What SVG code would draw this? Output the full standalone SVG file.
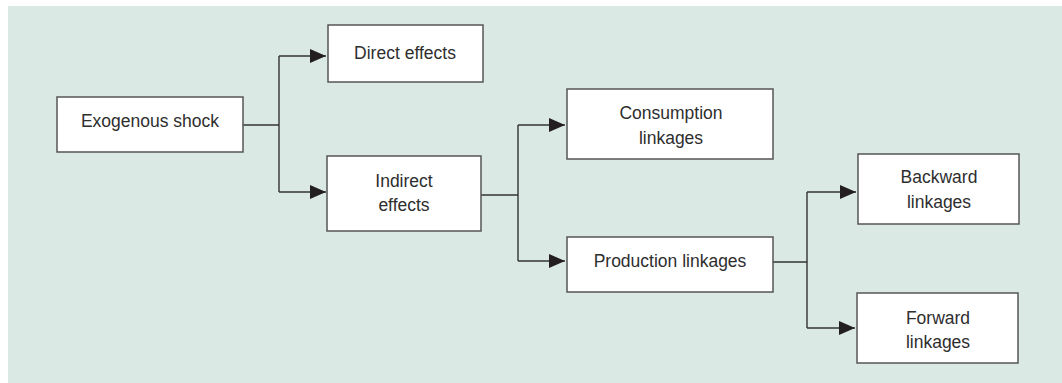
<svg xmlns="http://www.w3.org/2000/svg" width="1062" height="383" viewBox="0 0 1062 383">
  <defs>
    <marker id="arr" viewBox="0 0 16 14" refX="16" refY="7" markerWidth="16" markerHeight="14" markerUnits="userSpaceOnUse" orient="auto">
      <path d="M0,0 L16,7 L0,14 Z" fill="#231f20"/>
    </marker>
    <style>
      .box { fill: #ffffff; stroke: #555555; stroke-width: 1.5; }
      .lbl { font-family: "Liberation Sans", Arial, sans-serif; font-size: 17.5px; fill: #2e2e2e; text-anchor: middle; }
      .con { fill: none; stroke: #333333; stroke-width: 1.4; }
    </style>
  </defs>
  <rect x="0" y="0" width="1062" height="383" fill="#ffffff"/>
  <rect x="8" y="6" width="1054" height="377" fill="#dbe9e4"/>

  <g id="connectors">
    <path class="con" d="M243,125 H279"/>
    <path class="con" d="M279,56 V192"/>
    <path class="con" d="M279,56 H326" marker-end="url(#arr)"/>
    <path class="con" d="M279,192 H326" marker-end="url(#arr)"/>
    <path class="con" d="M481,195 H518"/>
    <path class="con" d="M518,125 V261"/>
    <path class="con" d="M518,125 H565" marker-end="url(#arr)"/>
    <path class="con" d="M518,261 H565" marker-end="url(#arr)"/>
    <path class="con" d="M771,262 H807"/>
    <path class="con" d="M807,192 V328"/>
    <path class="con" d="M807,192 H856" marker-end="url(#arr)"/>
    <path class="con" d="M807,328 H855" marker-end="url(#arr)"/>
  </g>

  <g id="node-exogenous">
    <rect class="box" x="57" y="97" width="186" height="55"/>
    <text class="lbl" x="150" y="127">Exogenous shock</text>
  </g>
  <g id="node-direct">
    <rect class="box" x="328" y="25" width="155" height="57"/>
    <text class="lbl" x="405" y="59">Direct effects</text>
  </g>
  <g id="node-indirect">
    <rect class="box" x="327" y="156" width="154" height="75"/>
    <text class="lbl" x="404" y="187">Indirect</text>
    <text class="lbl" x="404" y="211">effects</text>
  </g>
  <g id="node-consumption">
    <rect class="box" x="567" y="89" width="206" height="70"/>
    <text class="lbl" x="671" y="119">Consumption</text>
    <text class="lbl" x="671" y="144">linkages</text>
  </g>
  <g id="node-production">
    <rect class="box" x="567" y="237" width="206" height="55"/>
    <text class="lbl" x="670" y="267">Production  linkages</text>
  </g>
  <g id="node-backward">
    <rect class="box" x="858" y="154" width="161" height="70"/>
    <text class="lbl" x="939" y="183">Backward</text>
    <text class="lbl" x="939" y="208">linkages</text>
  </g>
  <g id="node-forward">
    <rect class="box" x="857" y="293" width="161" height="70"/>
    <text class="lbl" x="938" y="324">Forward</text>
    <text class="lbl" x="938" y="348">linkages</text>
  </g>
</svg>
